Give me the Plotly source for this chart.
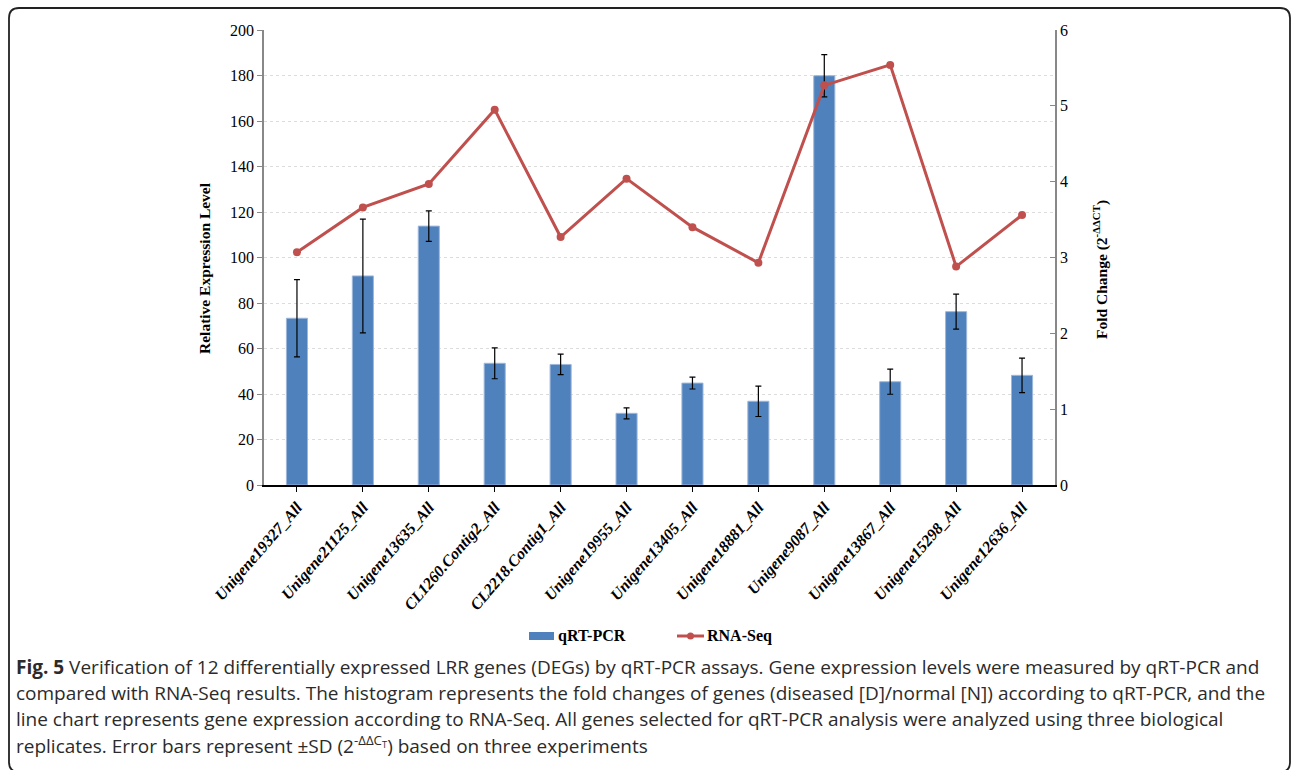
import plotly.graph_objects as go

# Gene identifiers (x categories)
genes = ["Unigene19327_All", "Unigene21125_All", "Unigene13635_All", "CL1260.Contig2_All",
         "CL2218.Contig1_All", "Unigene19955_All", "Unigene13405_All", "Unigene18881_All",
         "Unigene9087_All", "Unigene13867_All", "Unigene15298_All", "Unigene12636_All"]

# qRT-PCR relative expression (bars, left axis) and standard deviations
qrt_pcr = [73.3, 91.9, 113.8, 53.5, 53.0, 31.5, 44.8, 36.8, 179.9, 45.4, 76.2, 48.2]
qrt_sd = [17.0, 25.0, 6.7, 6.8, 4.5, 2.4, 2.6, 6.7, 9.3, 5.5, 7.7, 7.6]

# RNA-Seq fold change (line, right axis)
rna_seq = [3.07, 3.66, 3.97, 4.95, 3.27, 4.04, 3.40, 2.93, 5.27, 5.54, 2.88, 3.56]

left_ticks = [0, 20, 40, 60, 80, 100, 120, 140, 160, 180, 200]
right_ticks = [0, 1, 2, 3, 4, 5, 6]

BAR_COLOR = "#4f81bd"
LINE_COLOR = "#c0504d"

W, H = 1292, 770
L, R, T, B = 264, 1055, 30, 485


def px(x):
    return (x - L) / (R - L)


def py(y):
    return (B - y) / (B - T)


serif = "Liberation Serif, Times New Roman, serif"
sans = "Open Sans, Noto Sans, sans-serif"

fig = go.Figure()
fig.add_trace(go.Bar(
    x=genes, y=qrt_pcr, name="qRT-PCR",
    marker=dict(color=BAR_COLOR, line=dict(color="#9db7db", width=1)),
    width=0.32,
    error_y=dict(type="data", array=qrt_sd, visible=True, color="#000000", thickness=1.2, width=3),
    yaxis="y",
))
fig.add_trace(go.Scatter(
    x=genes, y=rna_seq, name="RNA-Seq", mode="lines+markers",
    line=dict(color=LINE_COLOR, width=3), marker=dict(color=LINE_COLOR, size=8),
    yaxis="y2",
))

fig.update_layout(
    width=W, height=H,
    margin=dict(l=L, r=W - R, t=T, b=H - B, pad=0),
    paper_bgcolor="white", plot_bgcolor="white",
    showlegend=False,
    xaxis=dict(
        type="category", tickangle=-49, showline=True, linecolor="#000000", linewidth=1.5,
        ticks="outside", ticklen=5, tickcolor="#000000", showgrid=False,
        tickvals=genes, ticktext=[f"<b><i>{g}</i></b>" for g in genes],
        tickfont=dict(family=serif, size=16, color="#000000"),
        range=[-0.5, 11.5],
    ),
    yaxis=dict(
        range=[0, 200], tickvals=left_ticks, showline=True, linecolor="#888888", linewidth=1.5,
        ticks="outside", ticklen=5, tickcolor="#888888", showgrid=True, gridcolor="#dcdcdc",
        griddash="dot", gridwidth=1, zeroline=False,
        tickfont=dict(family=serif, size=16, color="#000000"),
    ),
    yaxis2=dict(
        range=[0, 6], tickvals=right_ticks, overlaying="y", side="right", showline=True,
        linecolor="#888888", linewidth=1.5, ticks="inside", ticklen=5, tickcolor="#888888",
        showgrid=False, zeroline=False,
        tickfont=dict(family=serif, size=16, color="#000000"),
    ),
)

# Axis titles
fig.add_annotation(text="<b>Relative Expression Level</b>", xref="paper", yref="paper",
                   x=px(204), y=py(268), textangle=-90, showarrow=False,
                   xanchor="center", yanchor="middle",
                   font=dict(family=serif, size=15.5, color="#000000"))
fig.add_annotation(text="<b>Fold Change (2<sup>-ΔΔCT</sup>)</b>", xref="paper", yref="paper",
                   x=px(1100), y=py(270), textangle=-90, showarrow=False,
                   xanchor="center", yanchor="middle",
                   font=dict(family=serif, size=15.5, color="#000000"))

# Legend drawn below the tick labels
legend_y = 636
fig.add_shape(type="rect", xref="paper", yref="paper",
              x0=px(529), x1=px(554), y0=py(legend_y - 4), y1=py(legend_y + 4),
              fillcolor=BAR_COLOR, line=dict(width=0))
fig.add_annotation(text="<b>qRT-PCR</b>", xref="paper", yref="paper", x=px(556), y=py(legend_y),
                   xanchor="left", yanchor="middle", showarrow=False,
                   font=dict(family=serif, size=16, color="#000000"))
fig.add_shape(type="line", xref="paper", yref="paper",
              x0=px(677), x1=px(704), y0=py(legend_y), y1=py(legend_y),
              line=dict(color=LINE_COLOR, width=3))
fig.add_shape(type="circle", xref="paper", yref="paper",
              x0=px(687), x1=px(694), y0=py(legend_y - 3.5), y1=py(legend_y + 3.5),
              fillcolor=LINE_COLOR, line=dict(width=0))
fig.add_annotation(text="<b>RNA-Seq</b>", xref="paper", yref="paper", x=px(705), y=py(legend_y),
                   xanchor="left", yanchor="middle", showarrow=False,
                   font=dict(family=serif, size=16, color="#000000"))

# Caption lines below the chart
caption = [
    "<b>Fig. 5</b> Verification of 12 differentially expressed LRR genes (DEGs) by qRT-PCR assays. Gene expression levels were measured by qRT-PCR and",
    "compared with RNA-Seq results. The histogram represents the fold changes of genes (diseased [D]/normal [N]) according to qRT-PCR, and the",
    "line chart represents gene expression according to RNA-Seq. All genes selected for qRT-PCR analysis were analyzed using three biological",
    "replicates. Error bars represent ±SD (2<sup>-ΔΔC<sub>T</sub></sup>) based on three experiments",
]
for i, line in enumerate(caption):
    fig.add_annotation(text=line, xref="paper", yref="paper", x=px(14), y=py(667 + 26 * i),
                       xanchor="left", yanchor="middle", showarrow=False,
                       font=dict(family=sans, size=19, color="#2b2b2b"))

# Rounded frame around the figure
x0, y0, x1, y1, r = 9, 8, 1290, 772, 10
path = (f"M {px(x0 + r)},{py(y0)} L {px(x1 - r)},{py(y0)} "
        f"Q {px(x1)},{py(y0)} {px(x1)},{py(y0 + r)} L {px(x1)},{py(y1 - r)} "
        f"Q {px(x1)},{py(y1)} {px(x1 - r)},{py(y1)} L {px(x0 + r)},{py(y1)} "
        f"Q {px(x0)},{py(y1)} {px(x0)},{py(y1 - r)} L {px(x0)},{py(y0 + r)} "
        f"Q {px(x0)},{py(y0)} {px(x0 + r)},{py(y0)} Z")
fig.add_shape(type="path", path=path, xref="paper", yref="paper",
              line=dict(color="#222222", width=1.8), fillcolor="rgba(0,0,0,0)", layer="below")

fig.write_html("out.html")
